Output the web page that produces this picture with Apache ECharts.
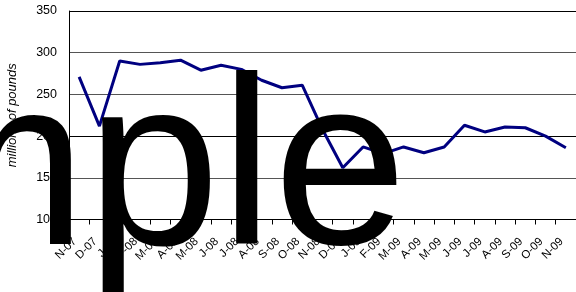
<!DOCTYPE html>
<html>
<head>
<meta charset="utf-8">
<script src="https://cdn.jsdelivr.net/npm/echarts@6/dist/echarts.min.js"></script>
<style>
  html, body { margin: 0; padding: 0; background: #fff; }
  #chartsCover { width: 576px; height: 292px; }
</style>
</head>
<body>
<div id="chartsCover"></div>
<script>
  // months, Nov 2007 .. Nov 2009
  var months = ['N-07','D-07','J-08','F-08','M-08','A-08','M-08','J-08','J-08','A-08','S-08','O-08','N-08',
                'D-08','J-09','F-09','M-09','A-09','M-09','J-09','J-09','A-09','S-09','O-09','N-09'];
  var pounds = [271, 212, 290, 286, 288, 291, 279, 285, 280, 267, 258, 261, 208,
                162, 187, 179, 187, 180, 187, 213, 205, 211, 210, 200, 186];
  var yTicks = [100, 150, 200, 250, 300, 350];

  var chartsOption = {
    animation: false,
    grid: {
      left: 69,
      right: 0,
      top: 11,
      bottom: 72.5,
      containLabel: false,
      outerBoundsMode: 'none'
    },
    xAxis: {
      type: 'category',
      data: months,
      boundaryGap: true,
      axisLine: { lineStyle: { color: '#000', width: 1 } },
      axisTick: { show: true, length: 5, lineStyle: { color: '#000' } },
      axisLabel: {
        rotate: 45,
        margin: 16,
        padding: [0, 6, 0, 0],
        interval: 0,
        color: '#000',
        fontFamily: 'Liberation Sans',
        fontSize: 11.5
      }
    },
    yAxis: {
      type: 'value',
      min: yTicks[0],
      max: yTicks[yTicks.length - 1],
      interval: 50,
      name: 'millions of pounds',
      nameLocation: 'middle',
      nameGap: 50,
      nameTextStyle: {
        fontStyle: 'italic',
        fontFamily: 'Liberation Sans',
        fontSize: 13,
        color: '#000'
      },
      axisLine: { show: true, lineStyle: { color: '#000' } },
      axisTick: { show: false },
      axisLabel: {
        margin: 12,
        color: '#000',
        fontFamily: 'Liberation Sans',
        fontSize: 12.5
      },
      splitLine: {
        show: true,
        lineStyle: { color: ['#000', '#555', '#000', '#555', '#555', '#000'], width: 1 }
      }
    },
    series: [
      {
        type: 'line',
        data: pounds,
        showSymbol: false,
        symbol: 'none',
        lineStyle: { color: '#000080', width: 3 },
        z: 3
      }
    ],
    graphic: [
      {
        type: 'text',
        z: 100,
        x: 0,
        y: 178,
        style: {
          text: 'Sample',
          fill: '#000',
          font: '240px "Liberation Sans"',
          textAlign: 'center',
          textVerticalAlign: 'middle'
        }
      }
    ]
  };

  var myChart = echarts.init(document.getElementById("chartsCover"));
  chartsOption && myChart.setOption(chartsOption, true);
</script>
</body>
</html>
